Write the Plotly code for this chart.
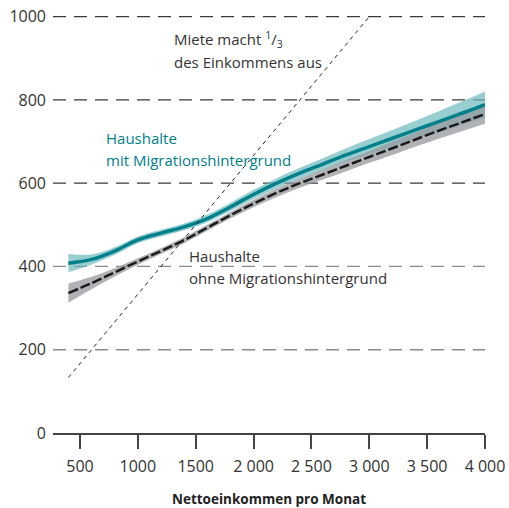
import plotly.graph_objects as go

# Data
income = [400, 600, 800, 1000, 1200, 1400, 1600, 1800, 2000, 2200, 2400,
          2600, 2800, 3000, 3200, 3400, 3600, 3800, 4000]
rent_mig = [408, 417, 437, 464, 480, 495, 515, 543, 573, 600, 624,
            646, 668, 688, 708, 728, 748, 768, 789]
rent_mig_ci = [22, 12, 9, 8, 8, 8, 9, 10, 11, 12, 13,
               14, 16, 18, 20, 22, 25, 28, 31]
rent_nomig = [336, 360, 386, 412, 437, 463, 493, 523, 551, 577, 600,
              621, 642, 663, 684, 705, 726, 746, 766]
rent_nomig_ci = [23, 15, 10, 8, 7, 7, 7, 8, 9, 10, 11,
                 12, 13, 14, 16, 17, 19, 21, 23]
third_x = [400, 3000]
third_y = [400 / 3, 1000]

x_tickvals = [500, 1000, 1500, 2000, 2500, 3000, 3500, 4000]
x_ticktext = ["500", "1000", "1500", "2 000", "2 500", "3 000", "3 500", "4 000"]
y_tickvals = [0, 200, 400, 600, 800, 1000]
grid_colors = [None, "#8a8a8a", "#8a8a8a", "#3a3a3a", "#3a3a3a", "#3a3a3a"]

TEAL = "#00808a"
TEAL_BAND = "rgba(110,185,190,0.7)"
GRAY_BAND = "rgba(150,152,158,0.75)"
FONT = "Open Sans"

fig = go.Figure()

def band(x, y, ci, color):
    upper = [a + b for a, b in zip(y, ci)]
    lower = [a - b for a, b in zip(y, ci)]
    fig.add_trace(go.Scatter(x=x, y=upper, mode="lines", line=dict(width=0, shape="spline"),
                             hoverinfo="skip", showlegend=False))
    fig.add_trace(go.Scatter(x=x, y=lower, mode="lines", line=dict(width=0, shape="spline"),
                             fill="tonexty", fillcolor=color, hoverinfo="skip", showlegend=False))

band(income, rent_mig, rent_mig_ci, TEAL_BAND)
band(income, rent_nomig, rent_nomig_ci, GRAY_BAND)

fig.add_trace(go.Scatter(x=income, y=rent_nomig, mode="lines",
                         line=dict(color="#1a1a1a", width=2.5, dash="10px,3px", shape="spline"),
                         showlegend=False))
fig.add_trace(go.Scatter(x=income, y=rent_mig, mode="lines",
                         line=dict(color=TEAL, width=3.5, shape="spline"),
                         showlegend=False))
fig.add_trace(go.Scatter(x=third_x, y=third_y, mode="lines",
                         line=dict(color="#222", width=1, dash="4px,4px"),
                         showlegend=False))

# dashed horizontal gridlines
for v, c in zip(y_tickvals, grid_colors):
    if c is None:
        continue
    fig.add_shape(type="line", xref="paper", yref="y", x0=0, x1=1, y0=v, y1=v,
                  line=dict(color=c, width=1.3, dash="13px,8px"), layer="below")

txt = dict(family=FONT, size=15, color="#333")
annos = [
    dict(x=1295, y=944, text="Miete macht <sup>1</sup>/<sub>3</sub>", font=txt),
    dict(x=1295, y=891, text="des Einkommens aus", font=txt),
    dict(x=707, y=709, text="Haushalte", font=dict(family=FONT, size=15, color=TEAL)),
    dict(x=707, y=656, text="mit Migrationshintergrund", font=dict(family=FONT, size=15, color=TEAL)),
    dict(x=1425, y=424, text="Haushalte", font=txt),
    dict(x=1425, y=373, text="ohne Migrationshintergrund", font=txt),
]
for a in annos:
    fig.add_annotation(xref="x", yref="y", xanchor="left", yanchor="middle",
                       showarrow=False, **a)

fig.update_layout(
    width=509, height=508,
    margin=dict(l=53, r=24, t=15, b=75),
    plot_bgcolor="white", paper_bgcolor="white",
    font=dict(family=FONT, size=16, color="#333"),
    showlegend=False,
)
fig.update_xaxes(
    range=[267, 4000], tickvals=x_tickvals, ticktext=x_ticktext,
    showgrid=False, zeroline=False, automargin=False,
    showline=True, linecolor="#444", linewidth=1.5,
    ticks="outside", ticklen=14, tickwidth=1.5, tickcolor="#444",
    tickfont=dict(family=FONT, size=16, color="#333"),
    ticklabelstandoff=4, ticklabeloverflow="allow",
    title=dict(text="<b>Nettoeinkommen pro Monat</b>", font=dict(family=FONT, size=13.5, color="#222"),
               standoff=27),
)
fig.update_yaxes(
    range=[0, 1004], tickvals=y_tickvals,
    showgrid=False, zeroline=False, showline=False, ticks="", automargin=False,
    tickfont=dict(family=FONT, size=16, color="#333"),
    ticklabelstandoff=6, ticklabeloverflow="allow",
)

fig.write_html("out.html", config={"displayModeBar": False},
               post_script="document.body.style.margin='0';document.body.style.overflow='hidden';")
